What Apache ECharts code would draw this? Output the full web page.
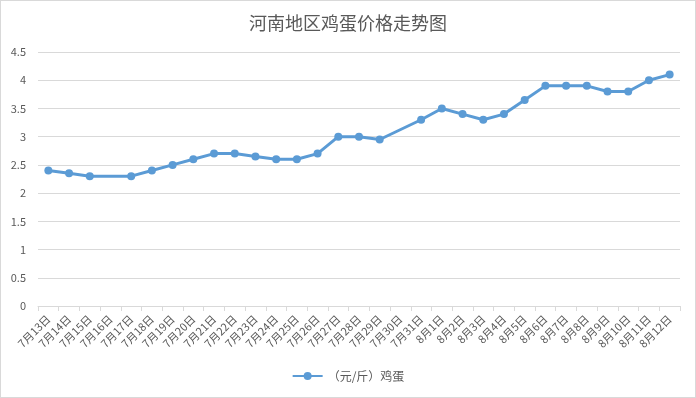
<!DOCTYPE html>
<html>
<head>
<meta charset="utf-8">
<script src="https://cdn.jsdelivr.net/npm/echarts@6/dist/echarts.min.js"></script>
<style>
  html, body { margin: 0; padding: 0; background: #fff; }
  #chart { width: 696px; height: 398px; box-sizing: border-box; border: 1px solid #d9d9d9; }
</style>
</head>
<body>
<div id="chart"></div>
<script>
const categories = [
  "7月13日", "7月14日", "7月15日", "7月16日", "7月17日", "7月18日", "7月19日",
  "7月20日", "7月21日", "7月22日", "7月23日", "7月24日", "7月25日", "7月26日",
  "7月27日", "7月28日", "7月29日", "7月30日", "7月31日",
  "8月1日", "8月2日", "8月3日", "8月4日", "8月5日", "8月6日", "8月7日",
  "8月8日", "8月9日", "8月10日", "8月11日", "8月12日"
];
const eggPrice = [
  2.4, 2.35, 2.3, null, 2.3, 2.4, 2.5,
  2.6, 2.7, 2.7, 2.65, 2.6, 2.6, 2.7,
  3.0, 3.0, 2.95, null, 3.3,
  3.5, 3.4, 3.3, 3.4, 3.65, 3.9, 3.9,
  3.9, 3.8, 3.8, 4.0, 4.1
];
const seriesName = "（元/斤）鸡蛋";
const titleText = "河南地区鸡蛋价格走势图";

const fontFamily = "'Noto Sans CJK SC', 'Microsoft YaHei', sans-serif";
const chart = echarts.init(document.getElementById("chart"), null, { renderer: "canvas" });

chart.setOption({
  animation: false,
  textStyle: { fontFamily },
  title: {
    text: titleText,
    left: "center",
    top: 8,
    textStyle: { color: "#595959", fontSize: 18, fontWeight: "normal", fontFamily }
  },
  legend: {
    bottom: 10,
    left: "center",
    itemWidth: 30,
    itemHeight: 10,
    textStyle: { color: "#595959", fontSize: 12 },
    data: [seriesName]
  },
  grid: { left: 37, right: 15, top: 51, bottom: 91 },
  xAxis: {
    type: "category",
    data: categories,
    boundaryGap: true,
    axisLine: { lineStyle: { color: "#d9d9d9" } },
    axisTick: { show: true, alignWithLabel: false, lineStyle: { color: "#d9d9d9" }, length: 5 },
    axisLabel: { interval: 0, rotate: 45, color: "#595959", fontSize: 11, margin: 11 }
  },
  yAxis: {
    type: "value",
    min: 0,
    max: 4.5,
    interval: 0.5,
    axisLine: { show: false },
    axisTick: { show: false },
    axisLabel: { color: "#595959", fontSize: 11, margin: 12 },
    splitLine: { lineStyle: { color: "#d9d9d9" } }
  },
  series: [{
    name: seriesName,
    type: "line",
    data: eggPrice,
    connectNulls: true,
    symbol: "circle",
    symbolSize: 8,
    lineStyle: { color: "#5b9bd5", width: 3 },
    itemStyle: { color: "#5b9bd5" }
  }]
});
</script>
</body>
</html>
